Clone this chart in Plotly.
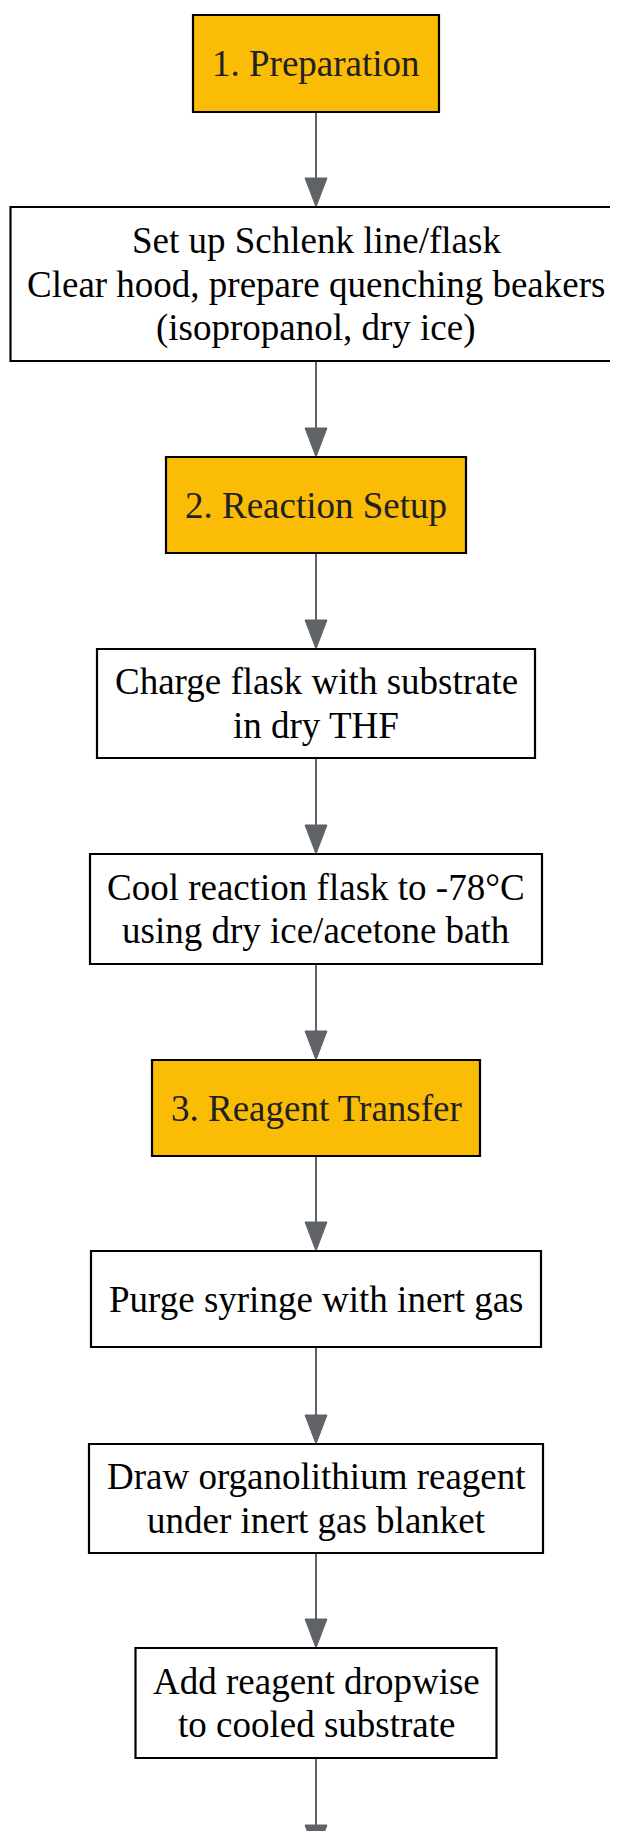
import plotly.graph_objects as go

# ---- content ----
node_lines = [
    ["1. Preparation"],
    ["Set up Schlenk line/flask", "Clear hood, prepare quenching beakers", "(isopropanol, dry ice)"],
    ["2. Reaction Setup"],
    ["Charge flask with substrate", "in dry THF"],
    ["Cool reaction flask to -78°C", "using dry ice/acetone bath"],
    ["3. Reagent Transfer"],
    ["Purge syringe with inert gas"],
    ["Draw organolithium reagent", "under inert gas blanket"],
    ["Add reagent dropwise", "to cooled substrate"],
]
node_kind = ["stage", "step", "stage", "step", "step", "stage", "step", "step", "step"]
edges = [(0, 1), (1, 2), (2, 3), (3, 4), (4, 5), (5, 6), (6, 7), (7, 8), (8, None)]

# ---- layout geometry (page pixels) ----
box_left = [193, 10.5, 166, 97, 90, 152, 91, 89, 135.5]
box_right = [439, 621.5, 466, 535, 542, 480, 541, 543, 496.5]
box_top = [15, 207, 457, 649, 854, 1060, 1251, 1444, 1648]
box_bottom = [112, 361, 553, 758, 964, 1156, 1347, 1553, 1758]
edge_gap = 96
line_step = 43.5
head_len = 29
head_half = 11
page_offset = 8  # default body margin of the html page

# ---- styles ----
fill = {"stage": "#FBBC05", "step": "#FFFFFF"}
text_color = {"stage": "#202124", "step": "#000000"}
edge_color = "#5F6368"
W, H = 618, 1831

fig = go.Figure()
fig.add_trace(go.Scatter(x=[], y=[], mode="markers", showlegend=False, hoverinfo="skip"))

shapes = []
annotations = []

# edges
for a, b in edges:
    cx = (box_left[a] + box_right[a]) / 2
    y0 = box_bottom[a]
    y1 = box_top[b] if b is not None else box_bottom[a] + edge_gap
    shapes.append(dict(type="line", xref="x", yref="y", x0=cx, x1=cx, y0=y0, y1=y1 - head_len + 2,
                       line=dict(color=edge_color, width=2), layer="below"))
    shapes.append(dict(type="path", xref="x", yref="y",
                       path=f"M {cx - head_half} {y1 - head_len} L {cx + head_half} {y1 - head_len} L {cx} {y1} Z",
                       fillcolor=edge_color, line=dict(color=edge_color, width=1), layer="below"))

# nodes
for i, lines in enumerate(node_lines):
    k = node_kind[i]
    shapes.append(dict(type="rect", xref="x", yref="y",
                       x0=box_left[i], x1=box_right[i], y0=box_top[i], y1=box_bottom[i],
                       fillcolor=fill[k], line=dict(color="#000000", width=2.2), layer="above"))
    cx = (box_left[i] + box_right[i]) / 2
    cy = (box_top[i] + box_bottom[i]) / 2
    n = len(lines)
    for j, t in enumerate(lines):
        annotations.append(dict(x=cx, y=cy + (j - (n - 1) / 2) * line_step, xref="x", yref="y",
                                text=t, showarrow=False, xanchor="center", yanchor="middle",
                                font=dict(family="Liberation Serif, Times New Roman, serif",
                                          size=37, color=text_color[k])))

fig.update_layout(
    width=W, height=H,
    margin=dict(l=0, r=0, t=0, b=0),
    paper_bgcolor="white", plot_bgcolor="white",
    xaxis=dict(range=[page_offset, page_offset + W], visible=False, fixedrange=True),
    yaxis=dict(range=[page_offset + H, page_offset], visible=False, fixedrange=True),
    shapes=shapes, annotations=annotations, showlegend=False,
)

fig.write_html("out.html")
